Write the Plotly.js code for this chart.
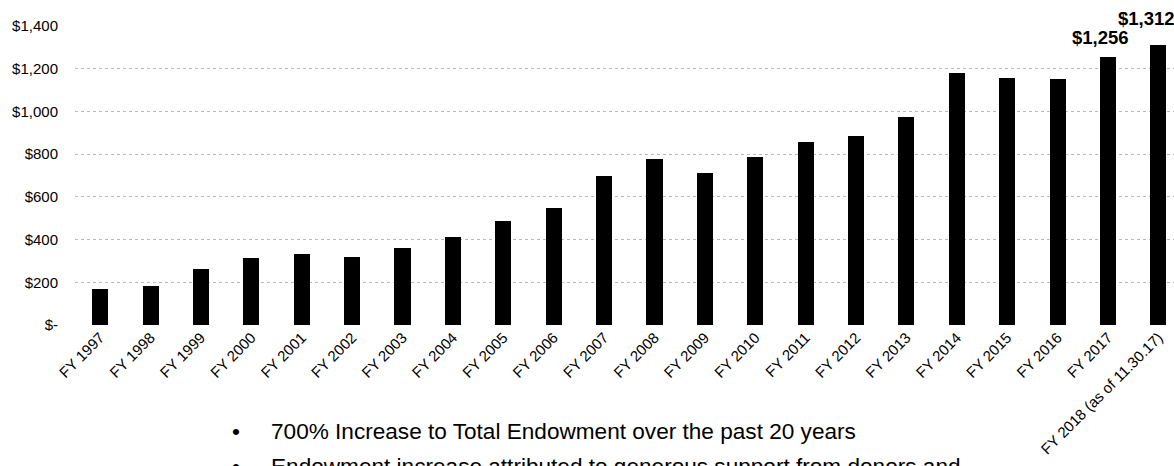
<!DOCTYPE html>
<html>
<head>
<meta charset="utf-8">
<script src="https://cdn.plot.ly/plotly-3.0.1.min.js"></script>
<style>
  html, body { margin: 0; padding: 0; background: #ffffff; }
  #chart { width: 1174px; height: 466px; }
</style>
</head>
<body>
<div id="chart"></div>
<script>
// Fiscal years (category labels)
const categories = [
  "FY 1997", "FY 1998", "FY 1999", "FY 2000", "FY 2001", "FY 2002",
  "FY 2003", "FY 2004", "FY 2005", "FY 2006", "FY 2007", "FY 2008",
  "FY 2009", "FY 2010", "FY 2011", "FY 2012", "FY 2013", "FY 2014",
  "FY 2015", "FY 2016", "FY 2017", "FY 2018 (as of 11.30.17)"
];
// Total endowment ($ millions)
const endowment = [
  167, 183, 261, 312, 332, 318,
  359, 410, 487, 548, 698, 779,
  710, 785, 858, 885, 972, 1181,
  1156, 1150, 1256, 1312
];
// Y axis ticks
const yTickVals = [0, 200, 400, 600, 800, 1000, 1200, 1400];
const yTickText = ["$-", "$200", "$400", "$600", "$800", "$1,000", "$1,200", "$1,400"];
// Labelled bars
const labelIdx = [20, 21];
const labelText = ["$1,256", "$1,312"];
// Bullet notes
const bullets = [
  "700% Increase to Total Endowment over the past 20 years",
  "Endowment increase attributed to generous support from donors and"
];

const FONT = "Liberation Sans, Arial, Helvetica, sans-serif";
const xIdx = categories.map((c, i) => i);

const trace = {
  type: "bar",
  x: xIdx,
  y: endowment,
  width: 0.32,
  marker: { color: "#000000", line: { width: 0 } },
  hoverinfo: "skip"
};

const labelShifts = [{ xs: -7, ys: 7 }, { xs: -12, ys: 14 }];
const annotations = labelIdx.map((idx, k) => ({
  x: idx, y: endowment[idx], xref: "x", yref: "y",
  text: "<b>" + labelText[k] + "</b>",
  showarrow: false, xanchor: "center", yanchor: "bottom",
  xshift: labelShifts[k].xs, yshift: labelShifts[k].ys,
  font: { family: FONT, size: 18.5, color: "#000000" }
}));

const bulletY = [-0.356, -0.472];
bullets.forEach((t, k) => {
  annotations.push({
    x: 0.141, y: bulletY[k], xref: "paper", yref: "paper",
    text: "•", showarrow: false, xanchor: "left", yanchor: "middle",
    font: { family: FONT, size: 22.6, color: "#000000" }
  });
  annotations.push({
    x: 0.1765, y: bulletY[k], xref: "paper", yref: "paper",
    text: t, showarrow: false, xanchor: "left", yanchor: "middle",
    font: { family: FONT, size: 22.6, color: "#000000" }
  });
});

const layout = {
  width: 1174, height: 466,
  margin: { l: 75, r: 0, t: 26, b: 141, pad: 0 },
  paper_bgcolor: "#ffffff", plot_bgcolor: "#ffffff",
  showlegend: false,
  bargap: 0,
  xaxis: {
    range: [-0.5, 21.31],
    tickmode: "array", tickvals: xIdx, ticktext: categories,
    tickangle: -45,
    tickfont: { family: FONT, size: 15, color: "#000000" },
    showgrid: false, zeroline: false, showline: false, ticks: "",
    fixedrange: true
  },
  yaxis: {
    range: [0, 1400],
    tickmode: "array", tickvals: yTickVals, ticktext: yTickText,
    tickfont: { family: FONT, size: 15, color: "#000000" },
    showgrid: true, gridcolor: "#b8b8b8", gridwidth: 1, griddash: "dot",
    zeroline: false, showline: false, ticks: "",
    ticklabelstandoff: 16,
    fixedrange: true
  },
  annotations: annotations
};

Plotly.newPlot("chart", [trace], layout, { staticPlot: true, displayModeBar: false });
</script>
</body>
</html>
